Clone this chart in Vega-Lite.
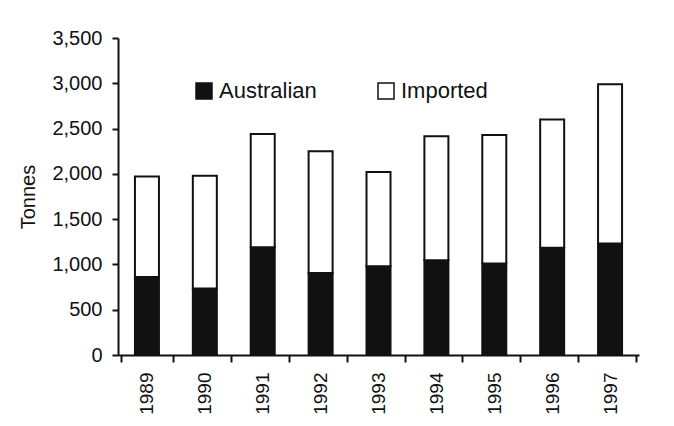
{
  "$schema": "https://vega.github.io/schema/vega-lite/v6.json",
  "autosize": {"type": "none"},
  "padding": {"left": 118, "top": 38, "right": 35, "bottom": 71},
  "width": 521,
  "height": 317,
  "background": "white",
  "config": {
    "font": "Liberation Sans",
    "view": {"stroke": null},
    "axis": {
      "domainColor": "#111",
      "domainWidth": 2,
      "tickColor": "#111",
      "tickWidth": 2,
      "labelColor": "#111",
      "titleColor": "#111",
      "labelFont": "Liberation Sans",
      "titleFont": "Liberation Sans",
      "grid": false
    }
  },
  "data": {
    "values": [
      {"year": "1989", "source": "Australian", "tonnes": 860},
      {"year": "1989", "source": "Imported", "tonnes": 1110},
      {"year": "1990", "source": "Australian", "tonnes": 735},
      {"year": "1990", "source": "Imported", "tonnes": 1245},
      {"year": "1991", "source": "Australian", "tonnes": 1190},
      {"year": "1991", "source": "Imported", "tonnes": 1250},
      {"year": "1992", "source": "Australian", "tonnes": 905},
      {"year": "1992", "source": "Imported", "tonnes": 1345},
      {"year": "1993", "source": "Australian", "tonnes": 980},
      {"year": "1993", "source": "Imported", "tonnes": 1040},
      {"year": "1994", "source": "Australian", "tonnes": 1045},
      {"year": "1994", "source": "Imported", "tonnes": 1370},
      {"year": "1995", "source": "Australian", "tonnes": 1010},
      {"year": "1995", "source": "Imported", "tonnes": 1420},
      {"year": "1996", "source": "Australian", "tonnes": 1185},
      {"year": "1996", "source": "Imported", "tonnes": 1415},
      {"year": "1997", "source": "Australian", "tonnes": 1230},
      {"year": "1997", "source": "Imported", "tonnes": 1760}
    ]
  },
  "mark": {"type": "bar", "width": 24, "stroke": "#111", "strokeWidth": 2},
  "encoding": {
    "x": {
      "field": "year",
      "type": "ordinal",
      "title": null,
      "axis": {
        "labelAngle": -90,
        "labelFontSize": 19,
        "labelPadding": 10,
        "tickSize": 7,
        "tickBand": "extent"
      }
    },
    "y": {
      "field": "tonnes",
      "type": "quantitative",
      "stack": "zero",
      "title": "Tonnes",
      "scale": {"domain": [0, 3500], "nice": false},
      "axis": {
        "values": [0, 500, 1000, 1500, 2000, 2500, 3000, 3500],
        "format": ",d",
        "labelFontSize": 20,
        "labelPadding": 10,
        "tickSize": 6,
        "titleFontSize": 20,
        "titleFontWeight": "normal",
        "titlePadding": 13
      }
    },
    "fill": {
      "field": "source",
      "type": "nominal",
      "scale": {"domain": ["Australian", "Imported"], "range": ["#111111", "#ffffff"]},
      "legend": {
        "title": null,
        "orient": "none",
        "direction": "horizontal",
        "legendX": 75,
        "legendY": 42,
        "symbolType": "square",
        "symbolSize": 256,
        "symbolStrokeColor": "#111",
        "symbolStrokeWidth": 1.5,
        "labelFontSize": 22,
        "labelColor": "#111",
        "labelOffset": 4,
        "columnPadding": 58
      }
    },
    "order": {"field": "source", "sort": "ascending"}
  }
}
